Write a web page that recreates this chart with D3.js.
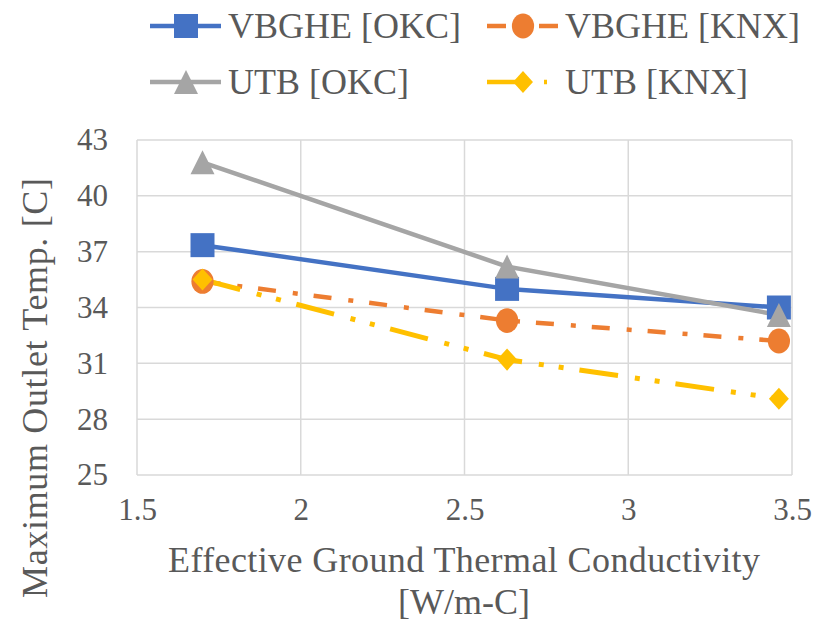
<!DOCTYPE html>
<html><head><meta charset="utf-8">
<script src="https://cdn.jsdelivr.net/npm/d3@7"></script>
<style>body{margin:0;background:#fff}svg{display:block}</style>
</head><body>
<script>
const xValues = [1.7, 2.63, 3.46];
const vbgheOKC = [37.35, 35.0, 34.0];
const vbgheKNX = [35.4, 33.3, 32.2];
const utbOKC = [41.8, 36.2, 33.6];
const utbKNX = [35.5, 31.2, 29.1];
const xTicks = [1.5, 2, 2.5, 3, 3.5];
const yTicks = [25, 28, 31, 34, 37, 40, 43];
const seriesNames = ["VBGHE [OKC]", "VBGHE [KNX]", "UTB [OKC]", "UTB [KNX]"];

const W = 813, H = 623;
const m = {left: 137, right: 21, top: 140, bottom: 148};
const svg = d3.select("body").append("svg").attr("width", W).attr("height", H);
const x = d3.scaleLinear().domain([1.5, 3.5]).range([m.left, W - m.right]);
const y = d3.scaleLinear().domain([25, 43]).range([H - m.bottom, m.top]);
const txt = "#595959";
const FF = '"Liberation Serif", "Times New Roman", Tinos, serif';

svg.append("g").selectAll("line").data(yTicks).join("line")
  .attr("x1", x(1.5)).attr("x2", x(3.5)).attr("y1", d => y(d)).attr("y2", d => y(d))
  .attr("stroke", "#d9d9d9").attr("stroke-width", 1.5);
svg.append("g").selectAll("line").data(xTicks).join("line")
  .attr("y1", y(25)).attr("y2", y(43)).attr("x1", d => x(d)).attr("x2", d => x(d))
  .attr("stroke", "#d9d9d9").attr("stroke-width", 1.5);

const xa = svg.append("g").attr("transform", `translate(0,${y(25)})`)
  .call(d3.axisBottom(x).tickValues(xTicks).tickSize(0).tickPadding(36).tickFormat(d3.format("")));
const ya = svg.append("g").attr("transform", `translate(${x(1.5)},0)`)
  .call(d3.axisLeft(y).tickValues(yTicks).tickSize(0).tickPadding(29));
[xa, ya].forEach(a => {
  a.select(".domain").remove();
  a.selectAll("text").style("font-family", FF).attr("font-size", 31).attr("fill", txt);
});
xa.selectAll("text").attr("dy", "0.3em");

function label(xp, yp, s, size, rot) {
  const t = svg.append("text").style("font-family", FF).attr("font-size", size).attr("fill", txt)
    .attr("text-anchor", "middle").text(s);
  if (rot) t.attr("transform", `translate(${xp},${yp}) rotate(-90)`);
  else t.attr("x", xp).attr("y", yp);
  return t;
}
label(464, 572, "Effective Ground Thermal Conductivity", 36).attr("textLength", 592).attr("lengthAdjust", "spacing");
label(464, 614, "[W/m-C]", 36);
label(47, 388, "Maximum Outlet Temp. [C]", 36, true).attr("textLength", 420).attr("lengthAdjust", "spacing");

const tri = {draw(ctx, size) { const s = Math.sqrt(size) / 2; ctx.moveTo(0, -s); ctx.lineTo(s, s); ctx.lineTo(-s, s); ctx.closePath(); }};
const dia = {draw(ctx, size) { const s = Math.sqrt(size) / 2; ctx.moveTo(0, -s * 1.05); ctx.lineTo(s * 0.95, 0); ctx.lineTo(0, s * 1.05); ctx.lineTo(-s * 0.95, 0); ctx.closePath(); }};

const styles = [
  {vals: vbgheOKC, color: "#4472c4", dash: null, sym: d3.symbolSquare, size: 576, w: 4.5, sc: ""},
  {vals: vbgheKNX, color: "#ed7d31", dash: "18,17,5,16", sym: d3.symbolCircle, size: 430, w: 4.5, sc: " scale(0.95,1.06)"},
  {vals: utbOKC, color: "#a5a5a5", dash: null, sym: tri, size: 576, w: 4.5, sc: ""},
  {vals: utbKNX, color: "#ffc000", dash: "39,17,5,15,5,16", sym: dia, size: 441, w: 5, sc: ""},
];
const line = d3.line().x((d, i) => x(xValues[i])).y(d => y(d));
styles.forEach(s => {
  svg.append("path").attr("d", line(s.vals)).attr("fill", "none")
    .attr("stroke", s.color).attr("stroke-width", s.w).attr("stroke-dasharray", s.dash)
    .attr("stroke-linejoin", "round");
});
styles.forEach(s => {
  svg.append("g").selectAll("path").data(s.vals).join("path")
    .attr("transform", (d, i) => `translate(${x(xValues[i])},${y(d)})${s.sc}`)
    .attr("d", d3.symbol().type(s.sym).size(s.size)).attr("fill", s.color);
});

const legPos = [[150, 26, 228], [487, 26, 565], [150, 82, 228], [487, 82, 565]];
const legDash = [null, "19,33,19", null, "36,21,3,30"];
styles.forEach((s, k) => {
  const [lx, ly, tx] = legPos[k];
  const g = svg.append("g");
  g.append("line").attr("x1", lx).attr("x2", lx + 71).attr("y1", ly).attr("y2", ly)
    .attr("stroke", s.color).attr("stroke-width", 4.5).attr("stroke-dasharray", legDash[k]);
  g.append("path").attr("transform", `translate(${lx + 36},${ly})${s.sc}`)
    .attr("d", d3.symbol().type(s.sym).size(s.size)).attr("fill", s.color);
  g.append("text").attr("x", tx).attr("y", ly + 12).style("font-family", FF)
    .attr("font-size", 36).attr("fill", txt).text(seriesNames[k]);
});
</script>
</body></html>
